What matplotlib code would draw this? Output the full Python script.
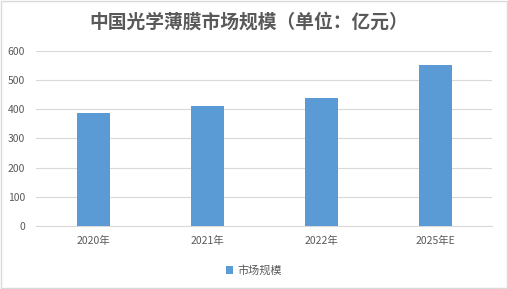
import numpy as np
import matplotlib.pyplot as plt
from matplotlib.patches import Rectangle

plt.rcParams['font.family'] = ['Noto Sans CJK SC', 'DejaVu Sans']

years = ["2020年", "2021年", "2022年", "2025年E"]
market_size = [388, 411, 440, 550]
yticks = [0, 100, 200, 300, 400, 500, 600]

bar_color = "#5b9bd5"
text_color = "#595959"

fig = plt.figure(figsize=(5.08, 2.89), dpi=100)
ax = fig.add_axes([0.071, 0.218, 0.898, 0.606])

x = np.arange(len(years))
ax.bar(x, market_size, width=0.29, color=bar_color, label="市场规模", zorder=3)

ax.set_xlim(-0.5, len(years) - 0.5)
ax.set_ylim(0, 600)
ax.set_yticks(yticks)
ax.set_xticks(x)
ax.set_xticklabels(years)
ax.tick_params(axis='both', length=0, labelsize=7.5, colors=text_color)
ax.tick_params(axis='x', pad=7)
ax.tick_params(axis='y', pad=8)
ax.grid(axis='y', color="#d9d9d9", linewidth=0.8, zorder=0)
for side in ["top", "right", "left"]:
    ax.spines[side].set_visible(False)
ax.spines["bottom"].set_color("#d9d9d9")
ax.spines["bottom"].set_linewidth(0.8)

fig.text(0.49, 0.925, "中国光学薄膜市场规模（单位：亿元）", ha='center', va='center',
         fontsize=13.5, fontweight='bold', color=text_color)

fig.legend(loc='center', bbox_to_anchor=(0.5, 0.065), frameon=False, fontsize=8,
           handlelength=0.7, handleheight=0.7, handletextpad=0.4, labelcolor=text_color)

fig.patches.append(Rectangle((0.002, 0.003), 0.996, 0.994, transform=fig.transFigure,
                             fill=False, edgecolor="#d9d9d9", linewidth=1))

fig.savefig("out.png", dpi=100)
